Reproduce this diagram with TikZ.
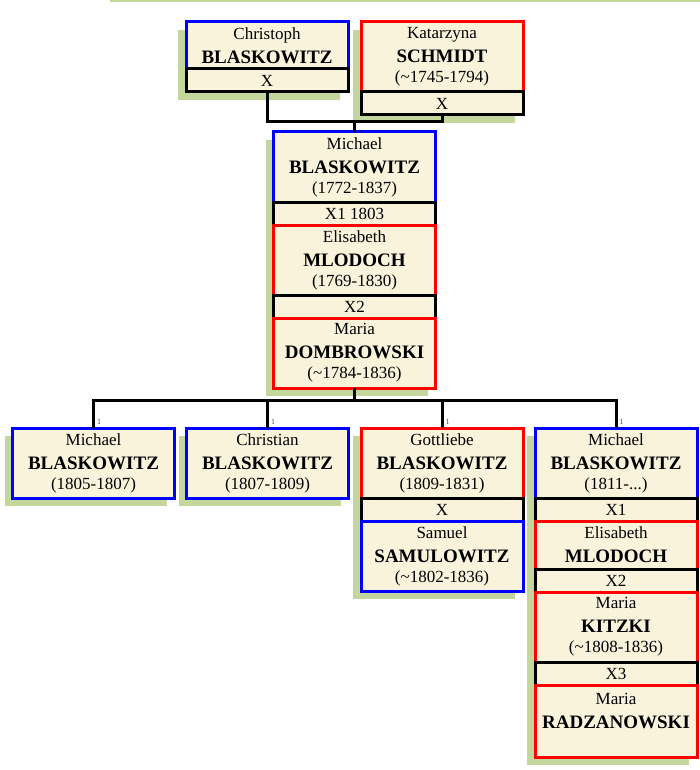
\documentclass[tikz,border=0pt]{standalone}
\usepackage{fontspec}
\setmainfont{Liberation Serif}
\usetikzlibrary{positioning,shadows}
\definecolor{FamBlue}{HTML}{0000FF}
\definecolor{FamRed}{HTML}{FF0000}
\definecolor{FamCream}{HTML}{FAF3DC}
\definecolor{FamGreen}{HTML}{C3D69B}
\newcommand\famname[1]{{\fontsize{19}{20}\selectfont\bfseries #1}}

\begin{document}
\begin{tikzpicture}[x=1pt,y=-1pt,
    card/.style={draw,fill=FamCream,line width=3pt,outer sep=0pt,inner sep=0pt,
      minimum width=162pt,align=center,font=\fontsize{17}{20}\selectfont,
      drop shadow={shadow xshift=-8pt,shadow yshift=-8pt,fill=FamGreen,opacity=1}},
    man/.style={card,draw=FamBlue,minimum height=70pt},
    woman/.style={card,draw=FamRed,minimum height=70pt},
    wed/.style={card,draw=black,minimum height=23pt},
    link/.style={line width=3pt,draw=black},
    one/.style={font=\fontsize{8}{8}\selectfont,text=black!70,inner sep=0.5pt,
      anchor=south west,xshift=1.5pt,yshift=1.5pt}
  ]
  \useasboundingbox (0,0) rectangle (700,770);
  \draw[FamGreen,line width=2pt] (110,1) -- (700,1);

  % parents
  \node[man,minimum height=47pt,anchor=north] (christoph) at (267,22)
    {Christoph\\[4pt]\famname{BLASKOWITZ}};
  \node[wed,below=0pt of christoph] (christophx) {X};
  \node[woman,anchor=north] (katarzyna) at (442,22)
    {Katarzyna\\[4pt]\famname{SCHMIDT}\\(\textasciitilde1745-1794)};
  \node[wed,below=0pt of katarzyna] (katarzynax) {X};

  % Michael and his wives
  \node[man,anchor=north] (michael) at (354.5,132)
    {Michael\\[4pt]\famname{BLASKOWITZ}\\(1772-1837)};
  \node[wed,below=0pt of michael] (michaelxa) {X1 1803};
  \node[woman,below=0pt of michaelxa] (elisabeth)
    {Elisabeth\\[4pt]\famname{MLODOCH}\\(1769-1830)};
  \node[wed,below=0pt of elisabeth] (michaelxb) {X2};
  \node[woman,below=0pt of michaelxb] (maria)
    {Maria\\[4pt]\famname{DOMBROWSKI}\\(\textasciitilde1784-1836)};

  % children
  \node[man,anchor=north] (kida) at (93.5,428)
    {Michael\\[4pt]\famname{BLASKOWITZ}\\(1805-1807)};
  \node[man,anchor=north] (kidb) at (267.5,428)
    {Christian\\[4pt]\famname{BLASKOWITZ}\\(1807-1809)};
  \node[woman,anchor=north] (kidc) at (442,428)
    {Gottliebe\\[4pt]\famname{BLASKOWITZ}\\(1809-1831)};
  \node[wed,below=0pt of kidc] (kidcx) {X};
  \node[man,below=0pt of kidcx] (samuel)
    {Samuel\\[4pt]\famname{SAMULOWITZ}\\(\textasciitilde1802-1836)};
  \node[man,anchor=north] (kidd) at (616,428)
    {Michael\\[4pt]\famname{BLASKOWITZ}\\(1811-...)};
  \node[wed,below=0pt of kidd] (kiddxa) {X1};
  \node[woman,minimum height=48pt,below=0pt of kiddxa] (elisabethb)
    {Elisabeth\\[4pt]\famname{MLODOCH}};
  \node[wed,below=0pt of elisabethb] (kiddxb) {X2};
  \node[woman,below=0pt of kiddxb] (mariab)
    {Maria\\[4pt]\famname{KITZKI}\\(\textasciitilde1808-1836)};
  \node[wed,below=0pt of mariab] (kiddxc) {X3};
  \node[woman,minimum height=72pt,below=0pt of kiddxc] (mariac)
    {Maria\\[4pt]\famname{RADZANOWSKI}\\\mbox{}};

  % lines
  \coordinate (topbar) at (354.5,122);
  \coordinate (kidbar) at (354.5,400);
  \draw[link] (christophx.south) |- (topbar) -| (katarzynax.south);
  \draw[link] (topbar) -- (michael.north);
  \draw[link] (maria.south) -- (kidbar);
  \foreach \k/\n in {kida/onea,kidb/oneb,kidc/onec,kidd/oned}
    \draw[link] (kidbar) -| (\k.north) node[one] (\n) {1};
\end{tikzpicture}
\end{document}
